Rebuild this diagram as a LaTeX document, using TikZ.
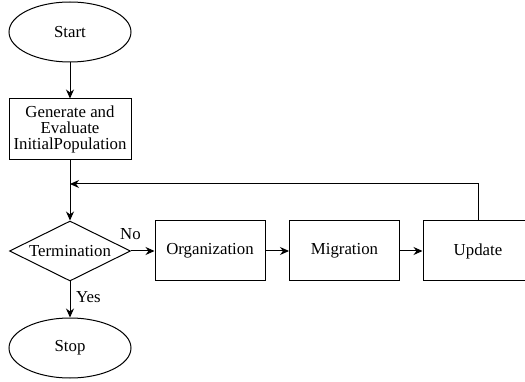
\documentclass[tikz,border=0pt]{standalone}
\usepackage{fontspec}
\setmainfont{Liberation Serif}
\usetikzlibrary{shapes.geometric,arrows.meta}
\begin{document}
\begin{tikzpicture}[x=1pt,y=-1pt,
  every node/.style={font=\fontsize{16.8}{19}\selectfont},
  lw/.style={line width=1pt},
  term/.style={draw,lw,ellipse,minimum width=122pt,minimum height=60pt,inner sep=0pt},
  proc/.style={draw,lw,rectangle,minimum width=110pt,minimum height=60pt,inner sep=0pt},
  dec/.style={draw,lw,diamond,aspect=2,minimum width=121pt,minimum height=60pt,inner sep=0pt},
  arr/.style={lw,-{Stealth[length=9pt,width=8pt]}},
  lbl/.style={inner sep=0pt}]
\useasboundingbox (0,0) rectangle (525,382);
\node[term] (start) at (70,32) {Start};
\node[proc,minimum width=122pt,minimum height=61pt,align=center] (gen) at (70,129.5) {Generate and\\[-3pt]Evaluate\\[-3pt]InitialPopulation};
\node[dec] (term) at (70,251) {};
\node[lbl] at (70,251) {Termination};
\node[proc] (org) at (210,251) {Organization};
\node[proc] (mig) at (344.5,251) {Migration};
\node[proc] (upd) at (478,251) {Update};
\node[term] (stop) at (70,348) {Stop};
\coordinate (j) at (70,184);
\draw[arr] (start) -- (gen);
\draw[arr] (gen) -- (term);
\draw[arr] (term.east) -- (org.west);
\draw[arr] (org) -- (mig);
\draw[arr] (mig) -- (upd);
\draw[arr] (term.south) -- (stop.north);
\draw[arr] (upd.north) |- (j);
\node[lbl,anchor=south west] at (120,240) {No};
\node[lbl,anchor=west] at (76,297) {Yes};
\end{tikzpicture}
\end{document}
